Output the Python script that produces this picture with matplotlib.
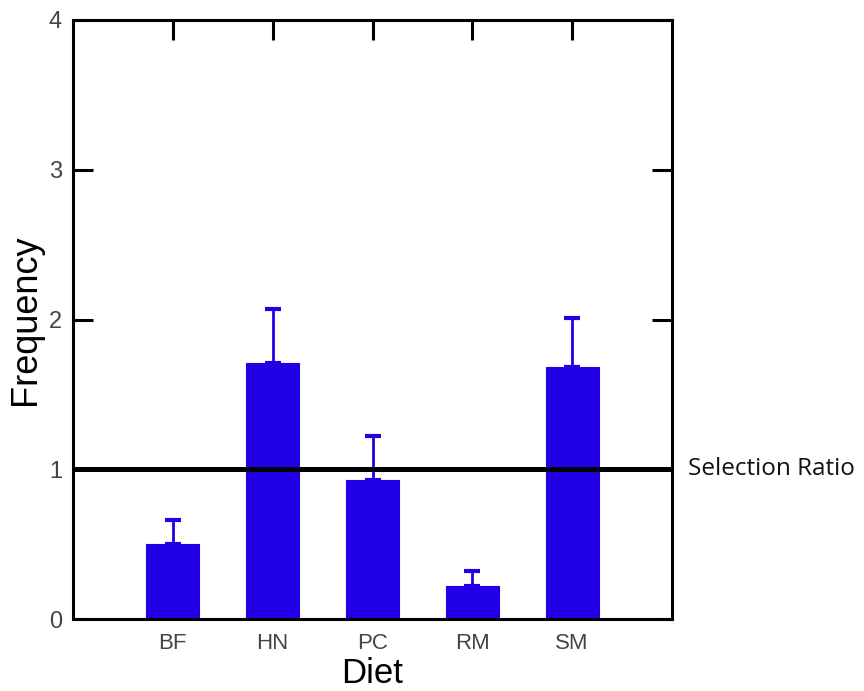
import matplotlib
matplotlib.use("Agg")
import matplotlib.pyplot as plt
import numpy as np

categories = ["BF", "HN", "PC", "RM", "SM"]
means = [0.50, 1.71, 0.93, 0.22, 1.68]
errors = [0.16, 0.36, 0.29, 0.10, 0.33]
selection_ratio = 1.0
yticks = [0, 1, 2, 3, 4]

bar_color = "#2200E6"

fig = plt.figure(figsize=(8.64, 6.91), dpi=100)
ax = fig.add_axes([73/864, 72/691, 599/864, 599/691])

x = np.arange(1, len(categories) + 1)
ax.bar(x, means, width=0.53, color=bar_color, edgecolor=bar_color, linewidth=0.8, zorder=2)
ax.errorbar(x, means, yerr=[np.zeros(len(errors)), errors], fmt="none",
            ecolor=bar_color, elinewidth=2.0, capsize=6, capthick=3, zorder=1)

ax.axhline(selection_ratio, color="black", lw=3.6, zorder=3)
ax.text(1.027, selection_ratio, "Selection Ratio", transform=ax.get_yaxis_transform(),
        va="center", ha="left", fontsize=17.5, family="Open Sans", color="#111111")

ax.set_xlim(0, 6)
ax.set_ylim(0, 4)
ax.set_xticks(x)
ax.set_xticklabels(categories)
ax.set_yticks(yticks)

for s in ax.spines.values():
    s.set_linewidth(2.2)
    s.set_color("black")

ax.tick_params(axis="x", direction="in", top=True, bottom=False, labelbottom=True,
               length=14.5, width=2.2, pad=10, labelsize=16, labelcolor="#444444",
               color="black")
ax.tick_params(axis="y", direction="in", left=True, right=True, labelleft=True,
               length=14.5, width=2.2, pad=8, labelsize=17, labelcolor="#444444",
               color="black")
for lab in ax.get_xticklabels() + ax.get_yticklabels():
    lab.set_family("Liberation Sans")

ax.set_xlabel("Diet", fontsize=25, family="Liberation Sans", labelpad=2)
ax.set_ylabel("Frequency", fontsize=26, family="Liberation Sans", labelpad=4)

fig.savefig("out.png", dpi=100)
